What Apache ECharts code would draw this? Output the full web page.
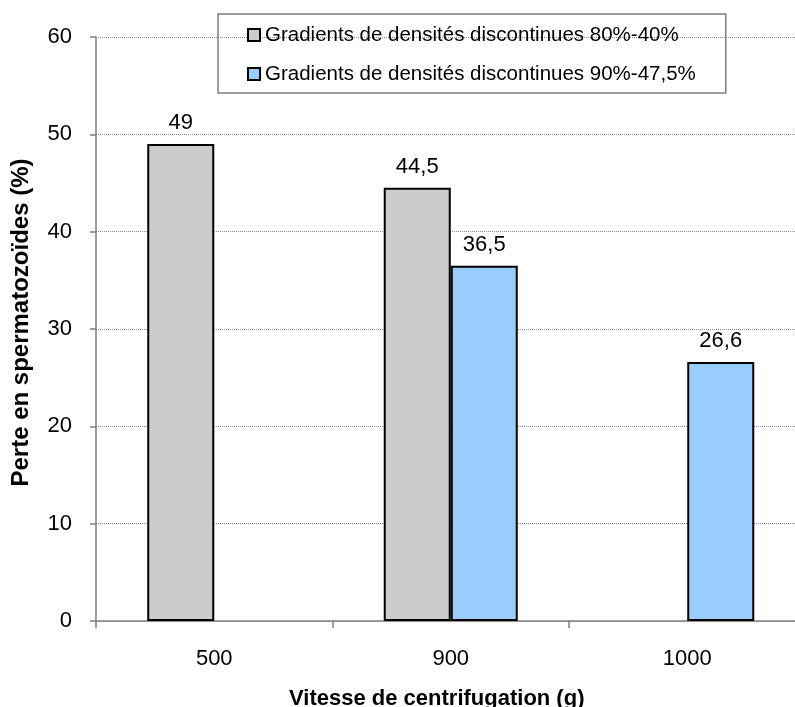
<!DOCTYPE html>
<html>
<head>
<meta charset="utf-8">
<script src="https://cdn.jsdelivr.net/npm/echarts@6/dist/echarts.min.js"></script>
<style>
  html, body { margin: 0; padding: 0; background: #fff; }
  #chart { width: 795px; height: 707px; }
</style>
</head>
<body>
<div id="chart"></div>
<script>
const categories = ['500', '900', '1000'];
const seriesNames = [
    'Gradients de densités discontinues 80%-40%',
    'Gradients de densités discontinues 90%-47,5%',
];
const lowGradient = [49, 44.5, null];
const highGradient = [null, 36.5, 26.6];
const yTicks = [0, 10, 20, 30, 40, 50, 60];

const font = '"Liberation Sans", Arial, sans-serif';
const chart = echarts.init(document.getElementById('chart'));

function barLabel() {
    return {
        show: true,
        position: 'top',
        distance: 10,
        color: '#000',
        fontFamily: font,
        fontSize: 22,
        formatter: (p) => String(p.value).replace('.', ','),
    };
}

chart.setOption({
    animation: false,
    grid: {
        left: 96,
        right: -10.5,
        top: 37,
        bottom: 86,
        outerBoundsMode: 'none',
        containLabel: false,
    },
    legend: {
        orient: 'vertical',
        left: 218,
        top: 14,
        padding: [10, 30, 8, 29],
        itemGap: 17,
        itemWidth: 12,
        itemHeight: 12,
        icon: 'rect',
        borderColor: '#7f7f7f',
        borderWidth: 1.5,
        textStyle: {
            color: '#000',
            fontFamily: font,
            fontSize: 20.5,
            lineHeight: 22,
        },
        data: seriesNames,
    },
    xAxis: {
        type: 'category',
        data: categories,
        name: 'Vitesse de centrifugation (g)',
        nameLocation: 'middle',
        nameGap: 67,
        nameTextStyle: {
            color: '#000',
            fontFamily: font,
            fontSize: 22,
            fontWeight: 'bold',
            padding: [0, 0, 0, -28],
        },
        axisLine: {lineStyle: {color: '#7f7f7f', width: 1.5}},
        axisTick: {show: true, length: 7, lineStyle: {color: '#7f7f7f', width: 1.5}},
        axisLabel: {
            color: '#000',
            fontFamily: font,
            fontSize: 22,
            margin: 27,
        },
    },
    yAxis: {
        type: 'value',
        min: yTicks[0],
        max: yTicks[yTicks.length - 1],
        interval: 10,
        name: 'Perte en spermatozoïdes (%)',
        nameLocation: 'middle',
        nameGap: 63,
        nameTextStyle: {
            color: '#000',
            fontFamily: font,
            fontSize: 24,
            fontWeight: 'bold',
            padding: [0, -13, 0, 0],
        },
        axisLine: {show: true, lineStyle: {color: '#7f7f7f', width: 1.5}},
        axisTick: {show: true, length: 6, lineStyle: {color: '#7f7f7f', width: 1.5}},
        axisLabel: {
            color: '#000',
            fontFamily: font,
            fontSize: 22,
            margin: 24,
        },
        splitLine: {
            show: true,
            lineStyle: {color: '#8c8c8c', type: 'dotted', width: 1},
        },
    },
    series: [
        {
            name: seriesNames[0],
            type: 'bar',
            data: lowGradient,
            barWidth: 67,
            barGap: '0%',
            itemStyle: {color: '#cccccc', borderColor: '#000', borderWidth: 2},
            label: barLabel(),
        },
        {
            name: seriesNames[1],
            type: 'bar',
            data: highGradient,
            barWidth: 67,
            barGap: '0%',
            itemStyle: {color: '#99ccff', borderColor: '#000', borderWidth: 2},
            label: barLabel(),
        },
    ],
});
</script>
</body>
</html>
